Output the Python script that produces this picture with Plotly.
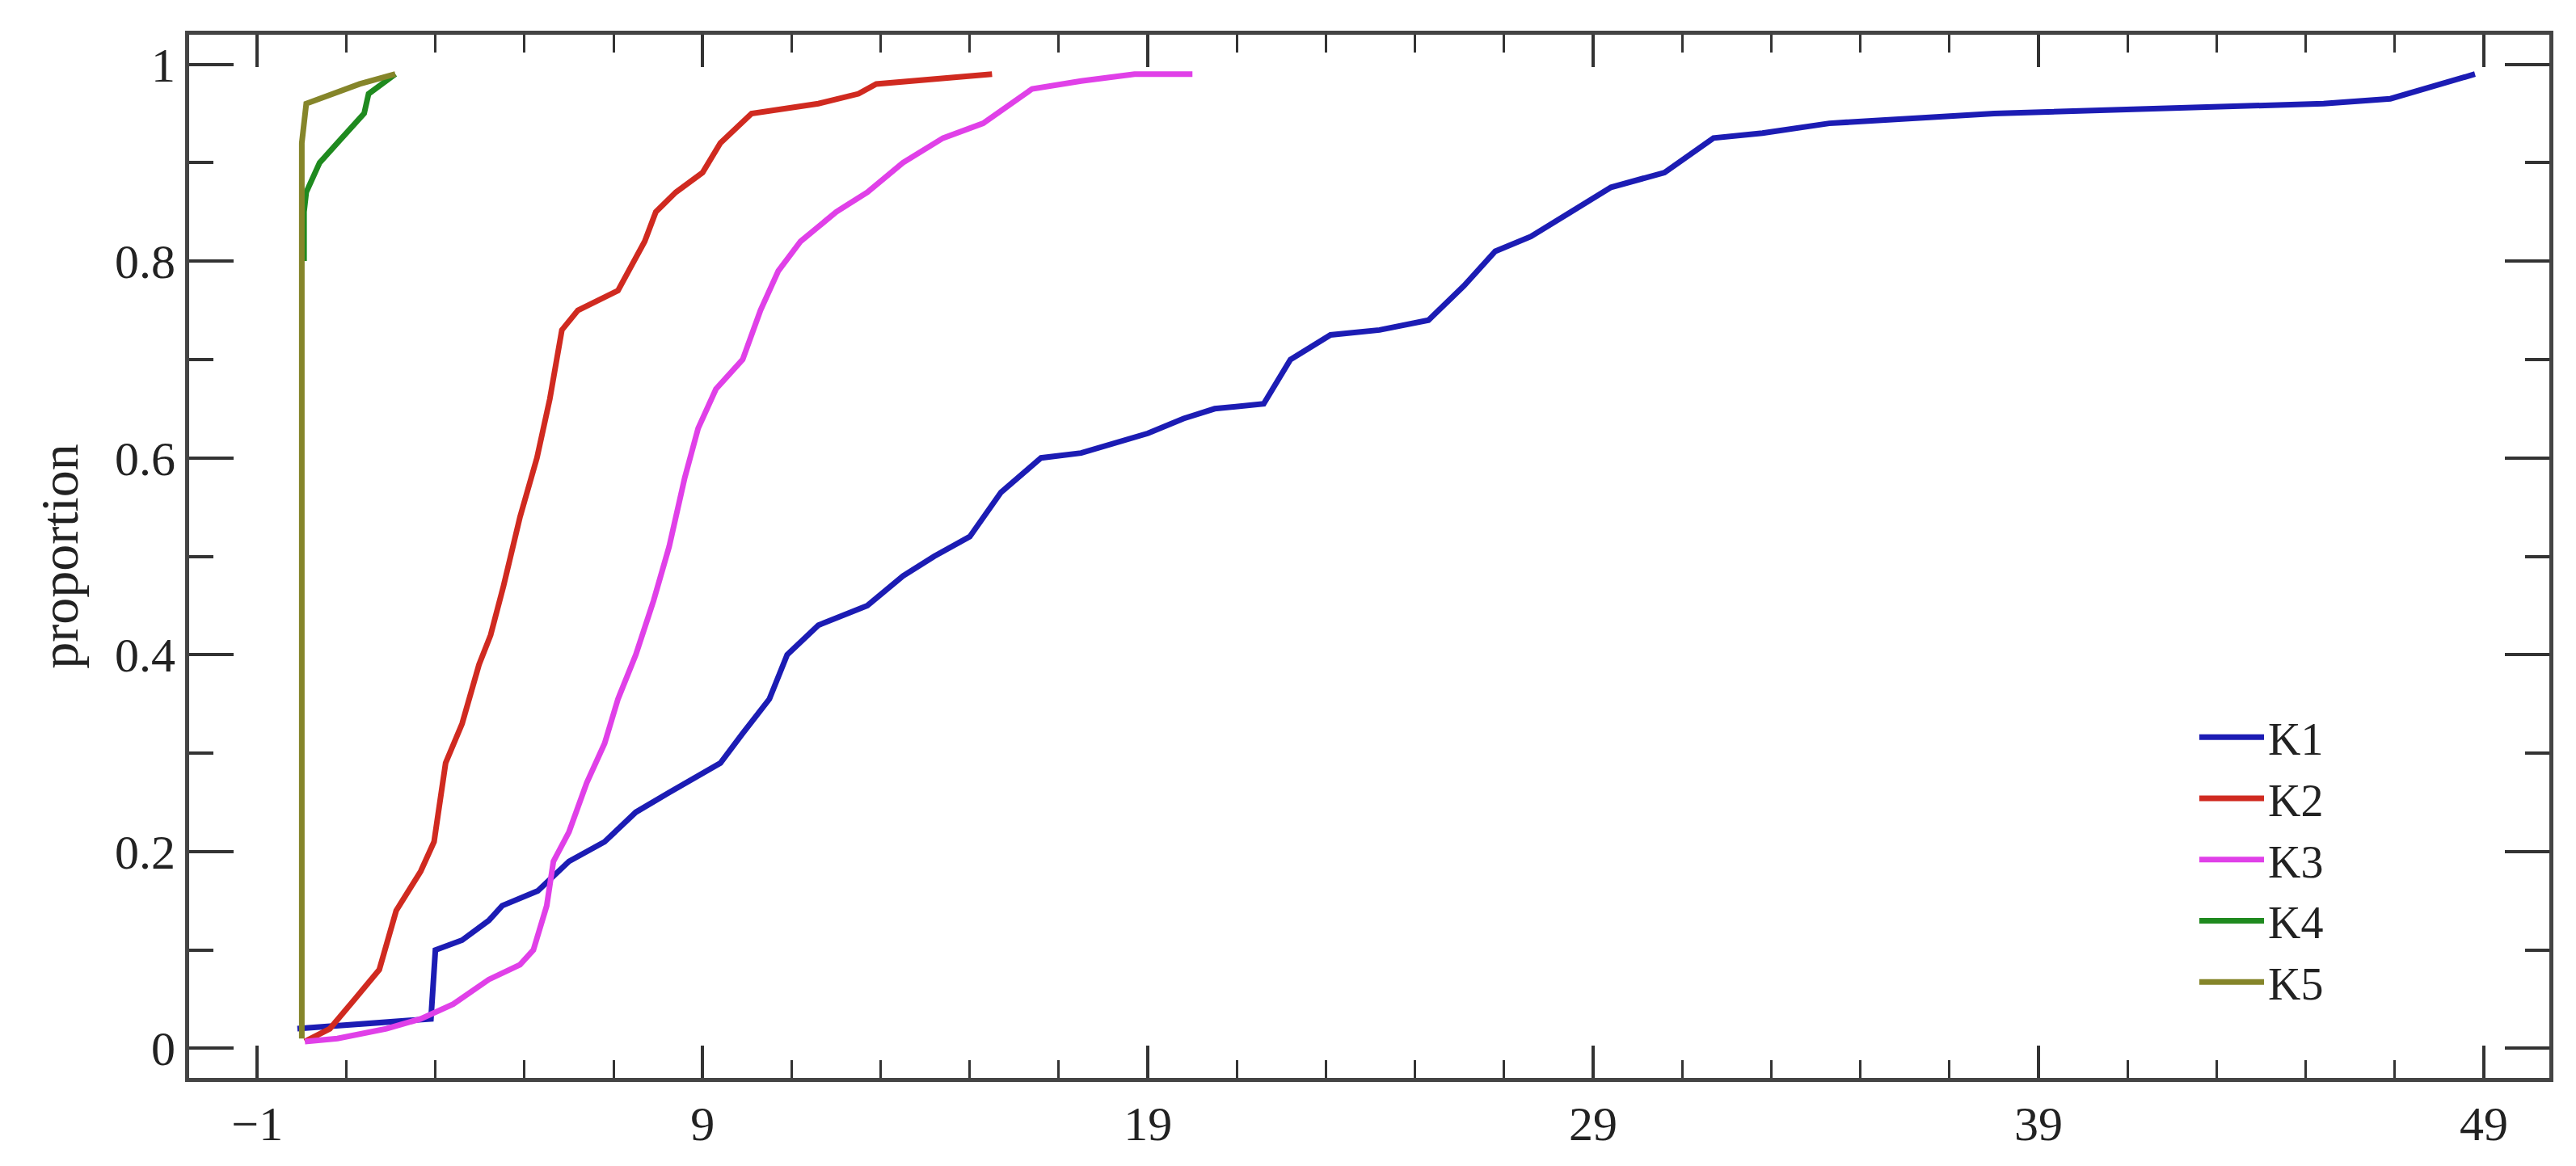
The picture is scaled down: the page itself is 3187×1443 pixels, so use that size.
import plotly.graph_objects as go

# values
k1_x = [-0.1, 2.9, 3.0, 3.6, 4.2, 4.5, 5.3, 6.0, 6.8, 7.5, 8.25, 9.4, 9.9, 10.5, 10.9, 11.6, 12.7,
        13.5, 14.2, 15.0, 15.7, 16.6, 17.5, 19.0, 19.8, 20.5, 21.6, 22.2, 23.1, 24.2, 25.3, 26.1,
        26.8, 27.6, 28.5, 29.4, 30.6, 31.7, 32.8, 34.3, 38.0, 41.7, 45.4, 46.9, 48.4, 48.8]
k1_y = [0.02, 0.03, 0.10, 0.11, 0.13, 0.145, 0.16, 0.19, 0.21, 0.24, 0.26, 0.29, 0.32, 0.355, 0.40,
        0.43, 0.45, 0.48, 0.50, 0.52, 0.565, 0.60, 0.605, 0.625, 0.64, 0.65, 0.655, 0.70, 0.725,
        0.73, 0.74, 0.775, 0.81, 0.825, 0.85, 0.875, 0.89, 0.925, 0.93, 0.94, 0.95, 0.955, 0.96,
        0.965, 0.985, 0.99]

k2_x = [0.07, 0.63, 1.19, 1.74, 2.12, 2.67, 2.97, 3.23, 3.6, 3.98, 4.24, 4.53, 4.9, 5.28, 5.57,
        5.84, 6.2, 7.1, 7.7, 7.95, 8.4, 9.0, 9.4, 10.1, 11.6, 12.5, 12.9, 14.2, 15.5]
k2_y = [0.007, 0.02, 0.05, 0.08, 0.14, 0.18, 0.21, 0.29, 0.33, 0.39, 0.42, 0.47, 0.54, 0.60, 0.66,
        0.73, 0.75, 0.77, 0.82, 0.85, 0.87, 0.89, 0.92, 0.95, 0.96, 0.97, 0.98, 0.985, 0.99]

k3_x = [0.07, 0.8, 1.9, 2.67, 3.4, 4.2, 4.9, 5.2, 5.5, 5.65, 6.0, 6.4, 6.8, 7.1, 7.5, 7.9, 8.25,
        8.6, 8.9, 9.3, 9.9, 10.3, 10.7, 11.2, 12.0, 12.7, 13.5, 14.4, 15.3, 16.4, 17.5, 18.7, 20.0]
k3_y = [0.007, 0.01, 0.02, 0.03, 0.045, 0.07, 0.085, 0.10, 0.145, 0.19, 0.22, 0.27, 0.31, 0.355,
        0.40, 0.455, 0.51, 0.58, 0.63, 0.67, 0.70, 0.75, 0.79, 0.82, 0.85, 0.87, 0.90, 0.925, 0.94,
        0.975, 0.983, 0.99, 0.99]

k4_x = [0.05, 0.05, 0.1, 0.4, 0.8, 1.4, 1.5, 2.1]
k4_y = [0.80, 0.85, 0.87, 0.90, 0.92, 0.95, 0.97, 0.99]

k5_x = [0.0, 0.0, 0.1, 0.7, 1.3, 2.1]
k5_y = [0.01, 0.92, 0.96, 0.97, 0.98, 0.99]

names = ['K1', 'K2', 'K3', 'K4', 'K5']
colors = ['#1c1cb4', '#d02a20', '#e040e8', '#1f8a1f', '#85852a']
series = [(k1_x, k1_y), (k2_x, k2_y), (k3_x, k3_y), (k4_x, k4_y), (k5_x, k5_y)]

x_ticks = [-1, 9, 19, 29, 39, 49]
y_ticks = [0, 0.2, 0.4, 0.6, 0.8, 1]

fig = go.Figure()
for name, color, (xs, ys) in zip(names, colors, series):
    fig.add_trace(go.Scatter(x=xs, y=ys, mode='lines', name=name,
                             line=dict(color=color, width=7)))

font = dict(family='Liberation Serif', size=60, color='#222')
axis_common = dict(
    showgrid=False, zeroline=False,
    showline=True, linecolor='#444', linewidth=5, mirror='ticks',
    ticks='inside', tickcolor='#333', tickwidth=4,
    tickfont=font,
)
fig.update_xaxes(
    range=[-2.53, 50.47], tickvals=x_ticks, ticklen=40,
    minor=dict(dtick=2, tick0=-1, ticks='inside', ticklen=22, tickwidth=3, tickcolor='#333'),
    **axis_common)
fig.update_yaxes(
    range=[-0.03, 1.03], tickvals=y_ticks, ticktext=['0', '0.2', '0.4', '0.6', '0.8', '1'],
    ticklen=55, title=dict(text='proportion', font=dict(family='Liberation Serif', size=66, color='#222'),
                           standoff=25),
    minor=dict(dtick=0.1, tick0=0, ticks='inside', ticklen=30, tickwidth=4, tickcolor='#333'),
    **axis_common)

fig.update_layout(
    width=3187, height=1443,
    margin=dict(l=226, r=41, t=35, b=117),
    plot_bgcolor='white', paper_bgcolor='white',
    legend=dict(x=0.85, y=0.36, xanchor='left', yanchor='top',
                font=dict(family='Liberation Serif', size=56, color='#222'),
                bgcolor='rgba(0,0,0,0)', itemwidth=80, tracegroupgap=10),
)

fig.write_html("out.html")
